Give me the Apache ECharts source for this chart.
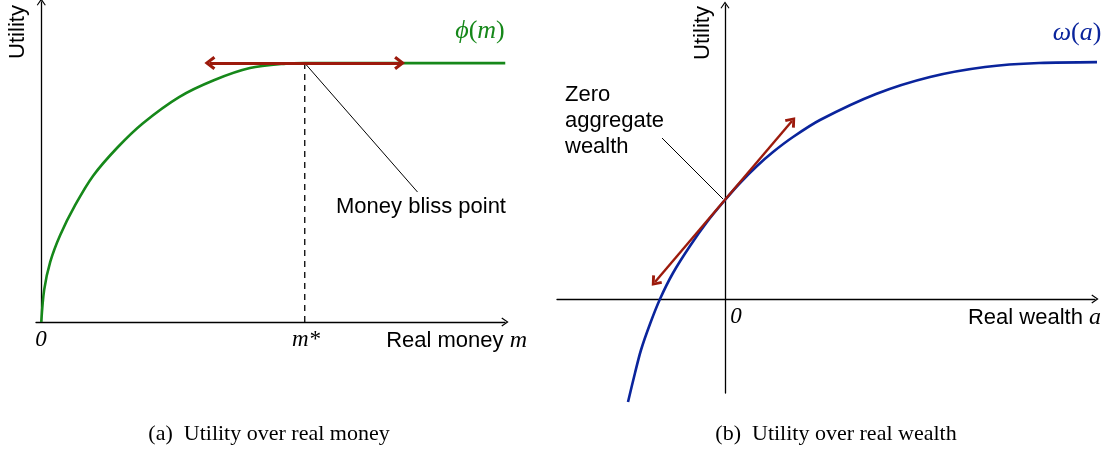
<!DOCTYPE html>
<html style="height: 100%">
<head>
<meta charset="utf-8">
<script src="https://cdn.jsdelivr.net/npm/echarts@6/dist/echarts.min.js"></script>
</head>
<body style="height: 100%; margin: 0; background: #fff">
<div id="container" style="width: 1118px; height: 473px"></div>
<script type="text/javascript">
// left panel: utility over real money (m* = 1, bliss utility = 1)
var moneyM = [0, 0.011, 0.034, 0.072, 0.129, 0.197, 0.29, 0.386, 0.523, 0.655, 0.792, 0.928, 1, 1.761];
var moneyPhi = [0, 0.124, 0.232, 0.336, 0.452, 0.565, 0.675, 0.768, 0.869, 0.934, 0.981, 0.998, 1, 1];
var blissArrow = [[0.64, 1], [1.36, 1]];
var blissLeader = [[1, 1], [1.428, 0.502]];

// right panel: utility over real wealth
var wealthA = [-0.97, -0.90, -0.84, -0.75, -0.65, -0.52, -0.35, -0.18, 0, 0.15, 0.32, 0.48, 0.68, 0.95, 1.51, 2.05, 2.60, 3.14, 3.93];
var wealthU = [-1.03, -0.74, -0.51, -0.25, 0, 0.26, 0.53, 0.77, 0.99, 1.16, 1.33, 1.47, 1.62, 1.79, 2.05, 2.22, 2.32, 2.36, 2.37];
var zeroArrow = [[-0.70, 0.17], [0.67, 1.78]];
var zeroLeader = [[-0.63, 1.61], [-0.02, 1.0]];

function pairs(xs, ys) {
    return xs.map(function (x, i) { return [x, ys[i]]; });
}

var chev = 'path://M5,0 L10,7.2 L9,8 L5,2.2 L1,8 L0,7.2 Z';
var chevBold = 'path://M5,0 L10,6.6 L8.2,8 L5,3.6 L1.8,8 L0,6.6 Z';
var sans = '"Liberation Sans", Arial, sans-serif';
var serif = '"Liberation Serif", "Times New Roman", serif';

function gx(i, min, max) {
    return {
        gridIndex: i, type: 'value', min: min, max: max,
        axisLine: { show: true, onZero: true, symbol: ['none', chev], symbolSize: [9, 8],
            lineStyle: { color: '#000', width: 1.3 } },
        axisTick: { show: false }, axisLabel: { show: false }, splitLine: { show: false }
    };
}

var myChart = echarts.init(document.getElementById('container'));

var option = {
    animation: false,
    backgroundColor: '#fff',
    grid: [
        { left: 36, width: 469, top: 2, height: 320 },
        { left: 557, width: 538, top: 5, height: 388 }
    ],
    xAxis: [gx(0, -0.02, 1.76), gx(1, -1.68, 3.70)],
    yAxis: [gx(0, 0, 1.236), gx(1, -0.94, 2.94)],
    series: [
        {
            type: 'line', xAxisIndex: 0, yAxisIndex: 0, data: [[1, 0], [1, 1]],
            showSymbol: false, lineStyle: { color: '#000', width: 1.3, type: [6, 5] }
        },
        {
            type: 'line', xAxisIndex: 0, yAxisIndex: 0, data: pairs(moneyM, moneyPhi),
            smooth: 0.3, showSymbol: false,
            lineStyle: { color: '#16881a', width: 2.6 }
        },
        {
            type: 'line', xAxisIndex: 0, yAxisIndex: 0, data: [], silent: true,
            markLine: {
                silent: true, symbol: [chevBold, chevBold], symbolSize: [14, 11],
                label: { show: false },
                lineStyle: { color: '#9c1a0c', width: 2.8, type: 'solid' },
                data: [[{ coord: blissArrow[0] }, { coord: blissArrow[1] }]]
            }
        },
        {
            type: 'line', xAxisIndex: 0, yAxisIndex: 0, data: blissLeader,
            showSymbol: false, lineStyle: { color: '#000', width: 1 }
        },
        {
            type: 'line', xAxisIndex: 1, yAxisIndex: 1, data: pairs(wealthA, wealthU),
            smooth: 0.3, showSymbol: false, clip: false,
            lineStyle: { color: '#0a249c', width: 2.6 }
        },
        {
            type: 'line', xAxisIndex: 1, yAxisIndex: 1, data: [], silent: true,
            markLine: {
                silent: true, symbol: [chevBold, chevBold], symbolSize: [13, 10],
                label: { show: false },
                lineStyle: { color: '#9c1a0c', width: 2.4, type: 'solid' },
                data: [[{ coord: zeroArrow[0] }, { coord: zeroArrow[1] }]]
            }
        },
        {
            type: 'line', xAxisIndex: 1, yAxisIndex: 1, data: zeroLeader,
            showSymbol: false, lineStyle: { color: '#000', width: 1 }
        }
    ],
    graphic: [
        { type: 'text', x: 18, y: 32, rotation: Math.PI / 2,
          style: { text: 'Utility', font: '22px ' + sans, fill: '#000', align: 'center', verticalAlign: 'middle' } },
        { type: 'text', x: 703, y: 33, rotation: Math.PI / 2,
          style: { text: 'Utility', font: '22px ' + sans, fill: '#000', align: 'center', verticalAlign: 'middle' } },
        { type: 'text', x: 480, y: 31,
          style: { text: '{i|\u03d5}{p|(}{i|m}{p|)}', align: 'center', verticalAlign: 'middle', fill: '#16881a',
                   rich: { i: { font: 'italic 26px ' + serif, fill: '#16881a' }, p: { font: '26px ' + serif, fill: '#16881a' } } } },
        { type: 'text', x: 1077, y: 33,
          style: { text: '{i|\u03c9}{p|(}{i|a}{p|)}', align: 'center', verticalAlign: 'middle', fill: '#0a249c',
                   rich: { i: { font: 'italic 26px ' + serif, fill: '#0a249c' }, p: { font: '26px ' + serif, fill: '#0a249c' } } } },
        { type: 'text', x: 421, y: 207,
          style: { text: 'Money bliss point', font: '22px ' + sans, fill: '#000', align: 'center', verticalAlign: 'middle' } },
        { type: 'text', x: 565, y: 121,
          style: { text: 'Zero\naggregate\nwealth', font: '22px ' + sans, lineHeight: 26, fill: '#000', align: 'left', verticalAlign: 'middle' } },
        { type: 'text', x: 41, y: 340,
          style: { text: '0', font: 'italic 23px ' + serif, fill: '#000', align: 'center', verticalAlign: 'middle' } },
        { type: 'text', x: 306, y: 340,
          style: { text: 'm*', font: 'italic 23px ' + serif, fill: '#000', align: 'center', verticalAlign: 'middle' } },
        { type: 'text', x: 527, y: 341,
          style: { text: '{s|Real money }{i|m}', align: 'right', verticalAlign: 'middle',
                   rich: { s: { font: '22px ' + sans, fill: '#000' }, i: { font: 'italic 24px ' + serif, fill: '#000' } } } },
        { type: 'text', x: 736, y: 317,
          style: { text: '0', font: 'italic 23px ' + serif, fill: '#000', align: 'center', verticalAlign: 'middle' } },
        { type: 'text', x: 1101, y: 318,
          style: { text: '{s|Real wealth }{i|a}', align: 'right', verticalAlign: 'middle',
                   rich: { s: { font: '22px ' + sans, fill: '#000' }, i: { font: 'italic 24px ' + serif, fill: '#000' } } } },
        { type: 'text', x: 269, y: 434,
          style: { text: '(a)  Utility over real money', font: '22px ' + serif, fill: '#000', align: 'center', verticalAlign: 'middle' } },
        { type: 'text', x: 836, y: 434,
          style: { text: '(b)  Utility over real wealth', font: '22px ' + serif, fill: '#000', align: 'center', verticalAlign: 'middle' } }
    ]
};

myChart.setOption(option, true);
</script>
</body>
</html>
